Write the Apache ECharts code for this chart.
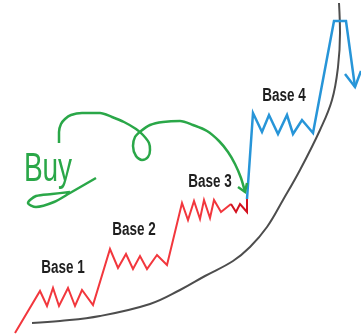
<!DOCTYPE html>
<html>
<head>
<meta charset="utf-8">
<script src="https://cdn.jsdelivr.net/npm/echarts@6/dist/echarts.min.js"></script>
<style>
html, body { margin: 0; padding: 0; background: #fff; }
#main { width: 361px; height: 336px; }
</style>
</head>
<body>
<div id="main"></div>
<script>
'use strict';
// price path, bases 1-3 (red)
var redPath = [[15,333],[40,291],[47,306],[53,288],[59,306],[68,288],[75,306],[82,290],[93,305],
    [110,249],[118,268],[126,254],[133,269],[140,256],[147,269],[157,255],[167,265],
    [182,203],[188,220],[194,201],[200,219],[204,200],[210,218],[214,200],[221,212],[231,204]];
var darkRedPath = [[231,204],[236,212],[240,204],[247,212],[247,199]];
// base 4 and breakdown (blue)
var bluePath = [[247,199],[253,113],[262,132],[269,115],[278,134],[287,115],[293,134],[302,120],[313,133],
    [334,21],[346,21],[355,87]];
var blueArrow = [[345,74],[355,87],[361,71]];
// parabolic curve
var curvePath = [[32,323],[60,321],[100,316],[150,304],[180,290],[205,276],[233,261],[250,247],[267,227],
    [283,200],[300,170],[320,130],[332,100],[338,67],[340,33],[339,3]];
// hand-drawn buy arrow
var greenPath = [[59,143],[59,132],[61,124],[65,119],[71,115],[82,113],[100,113],[112,117],[124,122],[136,129],[143,135],
    [149,143],[150,150],[148,157],[142,160],[136,156],[133,146],[135,137],[141,131],[150,125],[163,122],
    [180,121],[193,125],[207,131],[219,141],[228,152],[235,164],[241,178],[245,192]];
var greenArrow = [[238,187],[245,192],[247,183]];
var buyTail = [[70,192],[52,194],[36,196],[28,203],[36,207],[54,202],[70,193],[96,178]];
// labels [x, y, text]
var baseLabels = [[63,268,'Base 1'],[134,230,'Base 2'],[210,182,'Base 3'],[284,96,'Base 4']];
var buyLabel = [[48,170,'Buy']];

var myChart = echarts.init(document.getElementById('main'));

function lineSeries(data, color, width) {
    return {
        type: 'line',
        data: data,
        symbol: 'none',
        silent: true,
        lineStyle: { color: color, width: width, join: 'miter' },
        animation: false
    };
}

function textSeries(data, font, color, scaleX) {
    return {
        type: 'custom',
        data: data,
        silent: true,
        animation: false,
        renderItem: function (params, api) {
            var pt = api.coord([api.value(0), api.value(1)]);
            return {
                type: 'text',
                x: pt[0],
                y: pt[1],
                scaleX: scaleX,
                style: {
                    text: data[params.dataIndex][2],
                    font: font,
                    fill: color,
                    align: 'center',
                    verticalAlign: 'middle'
                }
            };
        }
    };
}

var curve = lineSeries(curvePath, '#4d4d4d', 2);
curve.smooth = 0.4;
var green = lineSeries(greenPath, '#2aa748', 2.5);
green.smooth = 0.3;
var tail = lineSeries(buyTail, '#2aa748', 2.5);
tail.smooth = 0.3;

var option = {
    grid: { left: 0, right: 0, top: 0, bottom: 0 },
    xAxis: { type: 'value', min: 0, max: 361, show: false },
    yAxis: { type: 'value', min: 0, max: 336, inverse: true, show: false },
    series: [
        curve,
        lineSeries(redPath, '#f2373d', 2),
        lineSeries(darkRedPath, '#d3121f', 2),
        lineSeries(bluePath, '#2795d8', 2.5),
        lineSeries(blueArrow, '#2795d8', 2.5),
        green,
        lineSeries(greenArrow, '#2aa748', 2.5),
        tail,
        textSeries(baseLabels, 'bold 18px "Liberation Sans"', '#1e1e1e', 0.75),
        textSeries(buyLabel, '40px "Liberation Sans"', '#2aa748', 0.7)
    ]
};
myChart.setOption(option);
</script>
</body>
</html>
